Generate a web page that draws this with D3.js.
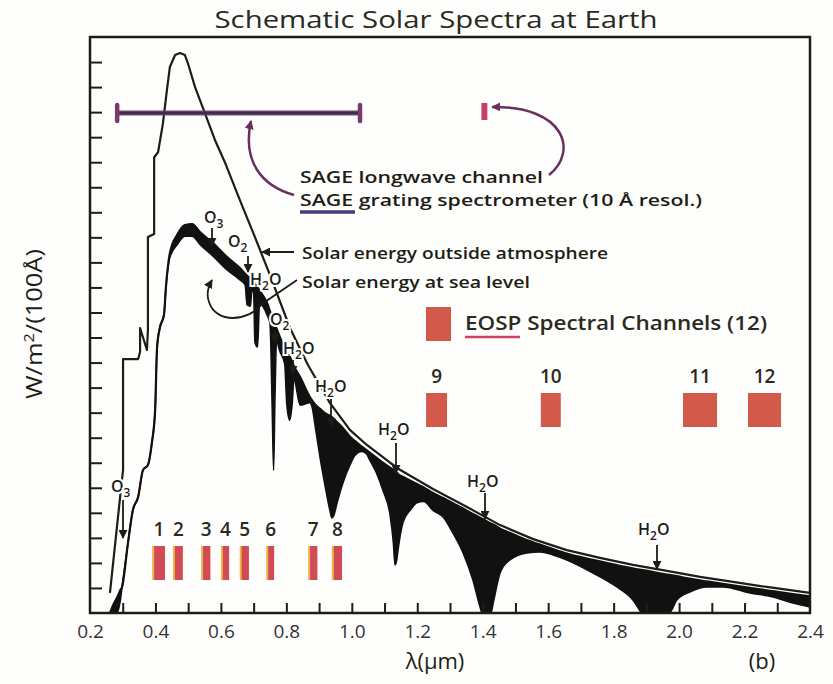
<!DOCTYPE html>
<html><head><meta charset="utf-8">
<script src="https://cdn.jsdelivr.net/npm/d3@7"></script>
<style>
html,body{margin:0;padding:0;background:#fff;}
svg{display:block;}
text{font-family:"Open Sans","DejaVu Sans",sans-serif;}
</style></head><body>
<svg id="c" width="833" height="684"></svg>
<script>
// ---------- DATA ----------
// Solar energy outside atmosphere (W/m^2/100A) vs wavelength (um)
const toaLambda = [0.261,0.292,0.301,0.301,0.347,0.353,0.353,0.374,0.377,0.377,0.396,0.396,0.408,0.423,0.435,0.444,0.460,0.475,0.490,0.499,0.521,0.551,0.582,0.612,0.658,0.704,0.750,0.811,0.866,0.933,0.994,1.046,1.117,1.147,1.248,1.352,1.453,1.554,1.657,1.758,1.859,1.963,2.064,2.165,2.268,2.400];
const toaValue  = [0.80,4.63,5.71,10.14,10.14,10.42,11.38,10.50,11.30,15.01,15.13,18.20,18.40,19.56,20.88,21.80,22.28,22.36,22.28,21.96,21.00,19.96,18.88,18.00,16.49,15.01,13.49,11.38,9.90,8.39,7.31,6.71,6.00,5.72,4.95,4.23,3.51,2.95,2.51,2.20,1.92,1.68,1.44,1.24,1.04,0.80];

// Solar energy at sea level: without molecular absorption (top of black) and with absorption (bottom of black)
const seaLambda = [0.261,0.272,0.284,0.292,0.298,0.316,0.331,0.347,0.362,0.377,0.389,0.399,0.405,0.414,0.426,0.432,0.444,0.466,0.490,0.512,0.536,0.576,0.619,0.658,0.674,0.680,0.690,0.695,0.700,0.704,0.712,0.718,0.741,0.750,0.757,0.761,0.765,0.770,0.780,0.795,0.801,0.810,0.818,0.823,0.842,0.872,0.878,0.890,0.903,0.918,0.933,0.939,0.945,0.955,0.973,0.994,1.010,1.030,1.045,1.055,1.075,1.095,1.117,1.127,1.132,1.137,1.141,1.156,1.178,1.199,1.220,1.248,1.279,1.309,1.340,1.370,1.392,1.398,1.425,1.432,1.453,1.483,1.535,1.575,1.615,1.657,1.737,1.810,1.859,1.880,1.885,1.970,1.993,2.033,2.085,2.134,2.216,2.287,2.348,2.400];
const seaClear  = [0.00,0.35,0.65,0.90,1.04,2.79,4.11,4.63,5.71,5.91,6.79,8.10,10.62,11.42,11.90,13.00,14.37,15.09,15.49,15.53,15.21,14.77,14.21,13.77,13.55,13.47,13.35,13.28,13.20,13.14,13.00,12.88,12.38,12.05,11.80,11.66,11.52,11.35,11.02,10.55,10.35,10.25,10.00,9.85,9.42,8.62,8.50,8.30,8.15,7.98,7.88,7.82,7.75,7.62,7.38,7.05,6.86,6.65,6.50,6.40,6.20,6.00,5.80,5.72,5.68,5.62,5.55,5.44,5.29,5.15,5.01,4.79,4.59,4.38,4.17,3.95,3.80,3.76,3.57,3.53,3.37,3.20,2.91,2.73,2.55,2.37,2.12,1.91,1.78,1.73,1.72,1.52,1.47,1.37,1.26,1.16,1.00,0.87,0.76,0.66];
const seaActual = [0.00,0.00,0.05,0.45,1.04,2.79,4.11,4.63,5.71,5.91,6.79,8.10,10.62,11.42,11.90,13.00,14.20,14.70,15.05,15.05,14.72,14.25,13.70,13.30,13.10,12.30,12.25,12.90,12.80,10.80,10.62,12.35,11.90,11.55,8.00,5.70,8.50,10.85,10.45,9.95,8.40,7.70,8.40,9.35,8.30,8.40,8.25,7.30,6.20,5.10,4.10,3.80,3.90,4.40,5.20,5.90,6.30,6.45,6.35,6.10,5.60,4.90,3.90,2.80,1.92,2.10,2.50,3.60,4.10,4.40,4.45,4.10,3.83,3.19,2.40,1.32,0.24,0.00,0.00,0.40,1.60,2.12,2.40,2.44,2.32,2.12,1.60,1.04,0.52,0.10,0.00,0.00,0.52,0.84,1.04,1.04,0.80,0.64,0.40,0.24];

// EOSP spectral channels
const eospChannel = [1,2,3,4,5,6,7,8,9,10,11,12];
const eospCenter  = [0.411,0.470,0.555,0.614,0.673,0.752,0.882,0.956,1.259,1.608,2.064,2.261];
const eospWidth   = [0.036,0.027,0.025,0.022,0.025,0.021,0.025,0.028,0.064,0.061,0.104,0.101];

// SAGE
const sageRange = [0.283, 1.025];
const sageLongwave = 1.405;

// Axis ticks
const xTickLabels = [0.2,0.4,0.6,0.8,1.0,1.2,1.4,1.6,1.8,2.0,2.2,2.4];
const xMinorTicks = d3.range(3,24).map(d=>d/10);
const yTicks = d3.range(1,23);

// ---------- DRAW ----------
const INK = "#1d1d15";
const svg = d3.select("#c");
svg.append("rect").attr("width",833).attr("height",684).attr("fill","#fefefd");

const x = d3.scaleLinear().domain([0.2,2.4]).range([90,810]);
const y = d3.scaleLinear().domain([0,23]).range([613,37]);

const defs = svg.append("defs");
defs.append("clipPath").attr("id","plot").append("rect")
  .attr("x",x(0.2)).attr("y",y(23)).attr("width",x(2.4)-x(0.2)).attr("height",y(0)-y(23));
function marker(id,color){
  defs.append("marker").attr("id",id).attr("viewBox","0 0 10 10").attr("refX",9).attr("refY",5)
    .attr("markerWidth",9).attr("markerHeight",9).attr("markerUnits","userSpaceOnUse").attr("orient","auto")
    .append("path").attr("d","M0,0 L10,5 L0,10 z").attr("fill",color);
}
marker("ah",INK); marker("ahp","#6a2f5e");

// Title
svg.append("text").attr("x",436).attr("y",28).attr("text-anchor","middle")
  .attr("font-size",24).attr("fill","#2a2a24").attr("textLength",443).attr("lengthAdjust","spacingAndGlyphs")
  .text("Schematic Solar Spectra at Earth");

// Data marks
const plot = svg.append("g").attr("clip-path","url(#plot)");
const sea = seaLambda.map((l,i)=>({l, c:seaClear[i], a:seaActual[i]}));
plot.append("path").datum(sea)
  .attr("d", d3.area().x(d=>x(d.l)).y0(d=>y(d.a)).y1(d=>y(d.c)).curve(d3.curveMonotoneX))
  .attr("fill","#111");
plot.append("path").datum(sea)
  .attr("d", d3.line().x(d=>x(d.l)).y(d=>y(d.c)).curve(d3.curveMonotoneX))
  .attr("fill","none").attr("stroke","#111").attr("stroke-width",2.2);
plot.append("path").datum(sea)
  .attr("d", d3.line().x(d=>x(d.l)).y(d=>y(d.a)).curve(d3.curveMonotoneX))
  .attr("fill","none").attr("stroke","#111").attr("stroke-width",1.6);

const toa = toaLambda.map((l,i)=>({l, v:toaValue[i]}));
plot.append("path").datum(toa)
  .attr("d", d3.line().x(d=>x(d.l)).y(d=>y(d.v)).curve(d3.curveLinear))
  .attr("fill","none").attr("stroke",INK).attr("stroke-width",2.2).attr("stroke-linejoin","round");

// Axes
const gMinor = svg.append("g").attr("transform",`translate(0,${y(0)})`)
  .call(d3.axisBottom(x).tickValues(xMinorTicks).tickSize(-10).tickFormat(""));
gMinor.select(".domain").remove();
gMinor.selectAll("line").attr("stroke",INK).attr("stroke-width",2);

const gLab = svg.append("g").attr("transform",`translate(0,${y(0)})`)
  .call(d3.axisBottom(x).tickValues(xTickLabels).tickSize(0).tickFormat(d3.format(".1f")));
gLab.select(".domain").remove();
gLab.selectAll("text").attr("y",25).attr("dy",0).attr("font-size",19)
  .attr("font-family","'Open Sans','DejaVu Sans',sans-serif").attr("fill","#333");

const gY = svg.append("g").attr("transform",`translate(${x(0.2)},0)`)
  .call(d3.axisLeft(y).tickValues(yTicks).tickSize(-12).tickFormat(""));
gY.select(".domain").remove();
gY.selectAll("line").attr("stroke",INK).attr("stroke-width",2);

svg.append("rect").attr("x",x(0.2)).attr("y",y(23)).attr("width",x(2.4)-x(0.2)).attr("height",y(0)-y(23))
  .attr("fill","none").attr("stroke",INK).attr("stroke-width",2.5);

// Axis titles
const yl = svg.append("text").attr("transform","translate(42,324) rotate(-90)").attr("text-anchor","middle")
  .attr("font-size",22).attr("fill",INK).attr("textLength",150).attr("lengthAdjust","spacingAndGlyphs");
yl.append("tspan").text("W/m");
yl.append("tspan").attr("dy",-8).attr("font-size",14).text("2");
yl.append("tspan").attr("dy",8).text("/(100Å)");

svg.append("text").attr("x",435).attr("y",669).attr("text-anchor","middle").attr("font-size",22)
  .attr("fill",INK).text("λ(μm)");
svg.append("text").attr("x",762).attr("y",669).attr("text-anchor","middle").attr("font-size",22)
  .attr("fill",INK).text("(b)");

// SAGE grating spectrometer range
const sageY = 113;
svg.append("line").attr("x1",x(sageRange[0])).attr("x2",x(sageRange[1])).attr("y1",sageY).attr("y2",sageY)
  .attr("stroke","#8a4a7a").attr("stroke-width",6).attr("opacity",0.55);
svg.append("line").attr("x1",x(sageRange[0])).attr("x2",x(sageRange[1])).attr("y1",sageY).attr("y2",sageY)
  .attr("stroke","#3e2c4c").attr("stroke-width",3.5);
sageRange.forEach(l=>{
  svg.append("line").attr("x1",x(l)).attr("x2",x(l)).attr("y1",sageY-8).attr("y2",sageY+8)
    .attr("stroke","#7a3a6e").attr("stroke-width",4.5).attr("stroke-linecap","round");
});
// SAGE longwave channel
svg.append("rect").attr("x",x(sageLongwave)-3).attr("y",103).attr("width",6).attr("height",17).attr("fill","#c4406a");

// SAGE arrows
svg.append("path").attr("d","M294,195 C262,186 242,162 251,121").attr("fill","none")
  .attr("stroke","#6a2f5e").attr("stroke-width",2.5).attr("marker-end","url(#ahp)");
svg.append("path").attr("d","M549,175 C578,152 566,106 492,107").attr("fill","none")
  .attr("stroke","#6a2f5e").attr("stroke-width",2.5).attr("marker-end","url(#ahp)");

// SAGE texts
const annFont = {"font-size":17,"font-weight":600,"fill":INK};
function ann(xp,yp,txt,len){
  const t = svg.append("text").attr("x",xp).attr("y",yp);
  Object.entries(annFont).forEach(([k,v])=>t.attr(k,v));
  if(len) t.attr("textLength",len).attr("lengthAdjust","spacingAndGlyphs");
  t.text(txt); return t;
}
ann(300,183,"SAGE longwave channel",243);
ann(300,206,"SAGE grating spectrometer (10 Å resol.)",402);
svg.append("line").attr("x1",300).attr("x2",355).attr("y1",212).attr("y2",212).attr("stroke","#4a3a78").attr("stroke-width",3.5);

// Solar energy labels
ann(302,259,"Solar energy outside atmosphere",306);
svg.append("line").attr("x1",294).attr("x2",262).attr("y1",252).attr("y2",252)
  .attr("stroke",INK).attr("stroke-width",2).attr("marker-end","url(#ah)");
ann(302,288,"Solar energy at sea level",228);
svg.append("path").attr("d","M297,280 L262,304 C248,322 216,324 209,302 C206,294 208,287 212,280")
  .attr("fill","none").attr("stroke",INK).attr("stroke-width",1.8).attr("marker-end","url(#ah)");

// EOSP legend
const EOSP = "#d15a4b";
svg.append("rect").attr("x",426).attr("y",307).attr("width",25).attr("height",34).attr("fill",EOSP);
svg.append("text").attr("x",465).attr("y",330).attr("font-size",20).attr("font-weight",600)
  .attr("fill","#2a2a22").attr("textLength",302).attr("lengthAdjust","spacingAndGlyphs")
  .text("EOSP Spectral Channels (12)");
svg.append("line").attr("x1",465).attr("x2",520).attr("y1",337).attr("y2",337).attr("stroke","#d04060").attr("stroke-width",2.5);

// EOSP channel bars
const rows = {low:{top:546,bot:580,lab:536}, high:{top:393,bot:427,lab:383}};
eospChannel.forEach((ch,i)=>{
  const r = ch<=8 ? rows.low : rows.high;
  const x0 = x(eospCenter[i]-eospWidth[i]/2), x1 = x(eospCenter[i]+eospWidth[i]/2);
  if(ch<=8){
    svg.append("rect").attr("x",x0-1).attr("y",r.top).attr("width",x1-x0+1).attr("height",r.bot-r.top).attr("fill","#e9b64a");
  }
  svg.append("rect").attr("x",x0+(ch<=8?1:0)).attr("y",r.top).attr("width",x1-x0-(ch<=8?1:0)).attr("height",r.bot-r.top)
    .attr("fill", ch<=8 ? "#d24a55" : EOSP);
  svg.append("text").attr("x",x(eospCenter[i])).attr("y",r.lab).attr("text-anchor","middle")
    .attr("font-size",19).attr("font-weight",600).attr("fill","#2a2a22").text(ch);
});

// Absorber labels
function gas(xp,yp,a,sub,b){
  const t = svg.append("text").attr("x",xp).attr("y",yp).attr("font-size",16).attr("font-weight",600)
    .attr("fill",INK).attr("stroke","#fff").attr("stroke-width",4).attr("paint-order","stroke");
  t.append("tspan").text(a);
  t.append("tspan").attr("dy",5).attr("font-size",12).text(sub);
  if(b) t.append("tspan").attr("dy",-5).text(b);
}
function arrow(xp,y1,y2){
  svg.append("line").attr("x1",xp).attr("x2",xp).attr("y1",y1).attr("y2",y2)
    .attr("stroke",INK).attr("stroke-width",1.8).attr("marker-end","url(#ah)");
}
gas(111,492,"O","3"); arrow(123,500,538);
gas(204,223,"O","3"); arrow(212,228,246);
gas(228,247,"O","2"); arrow(248,256,272);
gas(250,285,"H","2","O");
gas(270,325,"O","2"); arrow(275,330,342);
gas(283,354,"H","2","O"); arrow(293,360,374);
gas(315,392,"H","2","O"); arrow(331,399,426);
gas(378,435,"H","2","O"); arrow(396,443,473);
gas(467,487,"H","2","O"); arrow(485,493,519);
gas(638,535,"H","2","O"); arrow(657,545,569);
</script>
</body></html>
